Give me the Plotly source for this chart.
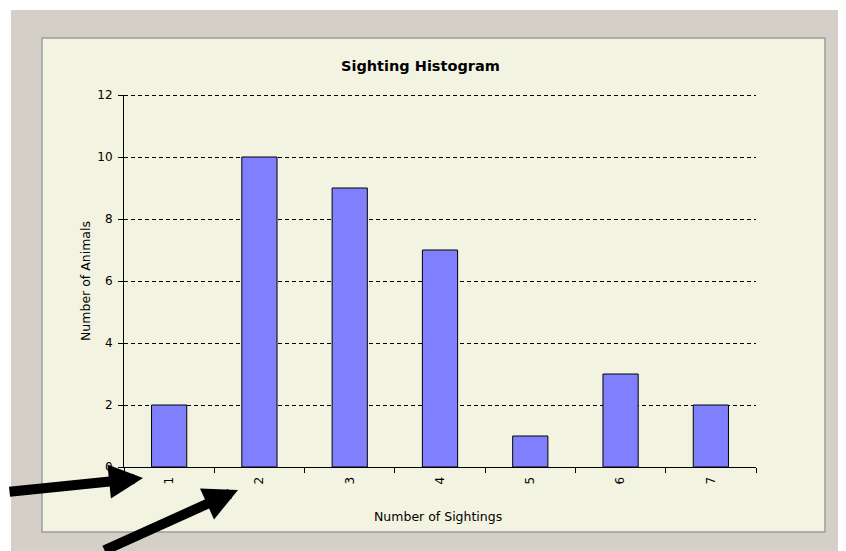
import plotly.graph_objects as go

# ---- data ----
categories = ["1", "2", "3", "4", "5", "6", "7"]
animals = [2, 10, 9, 7, 1, 3, 2]
y_ticks = [0, 2, 4, 6, 8, 10, 12]
chart_title = "Sighting Histogram"
x_title = "Number of Sightings"
y_title = "Number of Animals"

OFF = 8  # browser body margin
W, H = 846 - OFF, 551 - OFF
L, R, T, B = 124 - OFF, 756 - OFF, 95 - OFF, 467 - OFF  # plot area in figure px


def px(x):
    # x given in page pixels
    return (x - OFF - L) / (R - L)


def py(y):
    return (B - (y - OFF)) / (B - T)


FONT = "DejaVu Sans"
BAR = "#8080FF"
CREAM = "#F3F3E1"
GRAY = "#D4D0C8"
DASH = "4px,3px"
HALF_PX = 0.5 * (y_ticks[-1] - y_ticks[0]) / (B - T)

fig = go.Figure()
fig.add_trace(go.Bar(
    x=categories, y=animals,
    marker=dict(color=BAR, line=dict(color="black", width=1)),
    showlegend=False,
))

shapes = [
    dict(type="rect", xref="paper", yref="paper", layer="below",
         x0=px(11), x1=px(860), y0=py(10), y1=py(570),
         fillcolor=GRAY, line=dict(width=0)),
    dict(type="rect", xref="paper", yref="paper", layer="below",
         x0=px(42), x1=px(825), y0=py(38), y1=py(532),
         fillcolor=CREAM, line=dict(color="#9C9C9C", width=1.5)),
    # top gridline (plotly skips the grid line on the range edge)
    dict(type="line", xref="paper", yref="y", layer="below",
         x0=0, x1=1, y0=y_ticks[-1] - HALF_PX, y1=y_ticks[-1] - HALF_PX,
         line=dict(color="black", width=1, dash=DASH)),
]

annotations = [
    dict(text=f"<b>{chart_title}</b>", xref="paper", yref="paper",
         x=px(420), y=py(66), showarrow=False,
         font=dict(family=FONT, size=14.5, color="black"),
         xanchor="center", yanchor="middle"),
    dict(text=x_title, xref="paper", yref="paper",
         x=px(438), y=py(516), showarrow=False,
         font=dict(family=FONT, size=12.5, color="black"),
         xanchor="center", yanchor="middle"),
    dict(text=y_title, xref="paper", yref="paper",
         x=px(85), y=py(281), showarrow=False, textangle=-90,
         font=dict(family=FONT, size=12.5, color="black"),
         xanchor="center", yanchor="middle"),
    # black pointer arrows
    dict(text="", xref="paper", yref="paper",
         x=px(143), y=py(478), ax=-155, ay=14,
         showarrow=True, arrowhead=2, arrowwidth=10, arrowsize=0.68,
         arrowcolor="black", standoff=0),
    dict(text="", xref="paper", yref="paper",
         x=px(238), y=py(490), ax=-135, ay=75,
         showarrow=True, arrowhead=2, arrowwidth=10, arrowsize=0.68,
         arrowcolor="black", standoff=0),
]

fig.update_layout(
    width=W, height=H,
    margin=dict(l=L, r=W - R, t=T, b=H - B, autoexpand=False),
    paper_bgcolor="white",
    plot_bgcolor="rgba(0,0,0,0)",
    bargap=0.61,
    font=dict(family=FONT, size=12, color="black"),
    shapes=shapes,
    annotations=annotations,
    xaxis=dict(
        type="category", showline=True, linecolor="black", linewidth=1,
        ticks="outside", ticklen=5, tickcolor="black", tickson="boundaries",
        tickangle=-90, showgrid=False, zeroline=False, ticklabelstandoff=4,
        tickfont=dict(family=FONT, size=12, color="black"),
    ),
    yaxis=dict(
        range=[0, 12], tickvals=y_ticks, showline=True, linecolor="black",
        linewidth=1, ticks="outside", ticklen=5, tickcolor="black",
        showgrid=True, gridcolor="black", gridwidth=1, griddash=DASH,
        zeroline=False, ticklabelstandoff=3,
        tickfont=dict(family=FONT, size=12, color="black"),
    ),
)

fig.write_html("out.html")
